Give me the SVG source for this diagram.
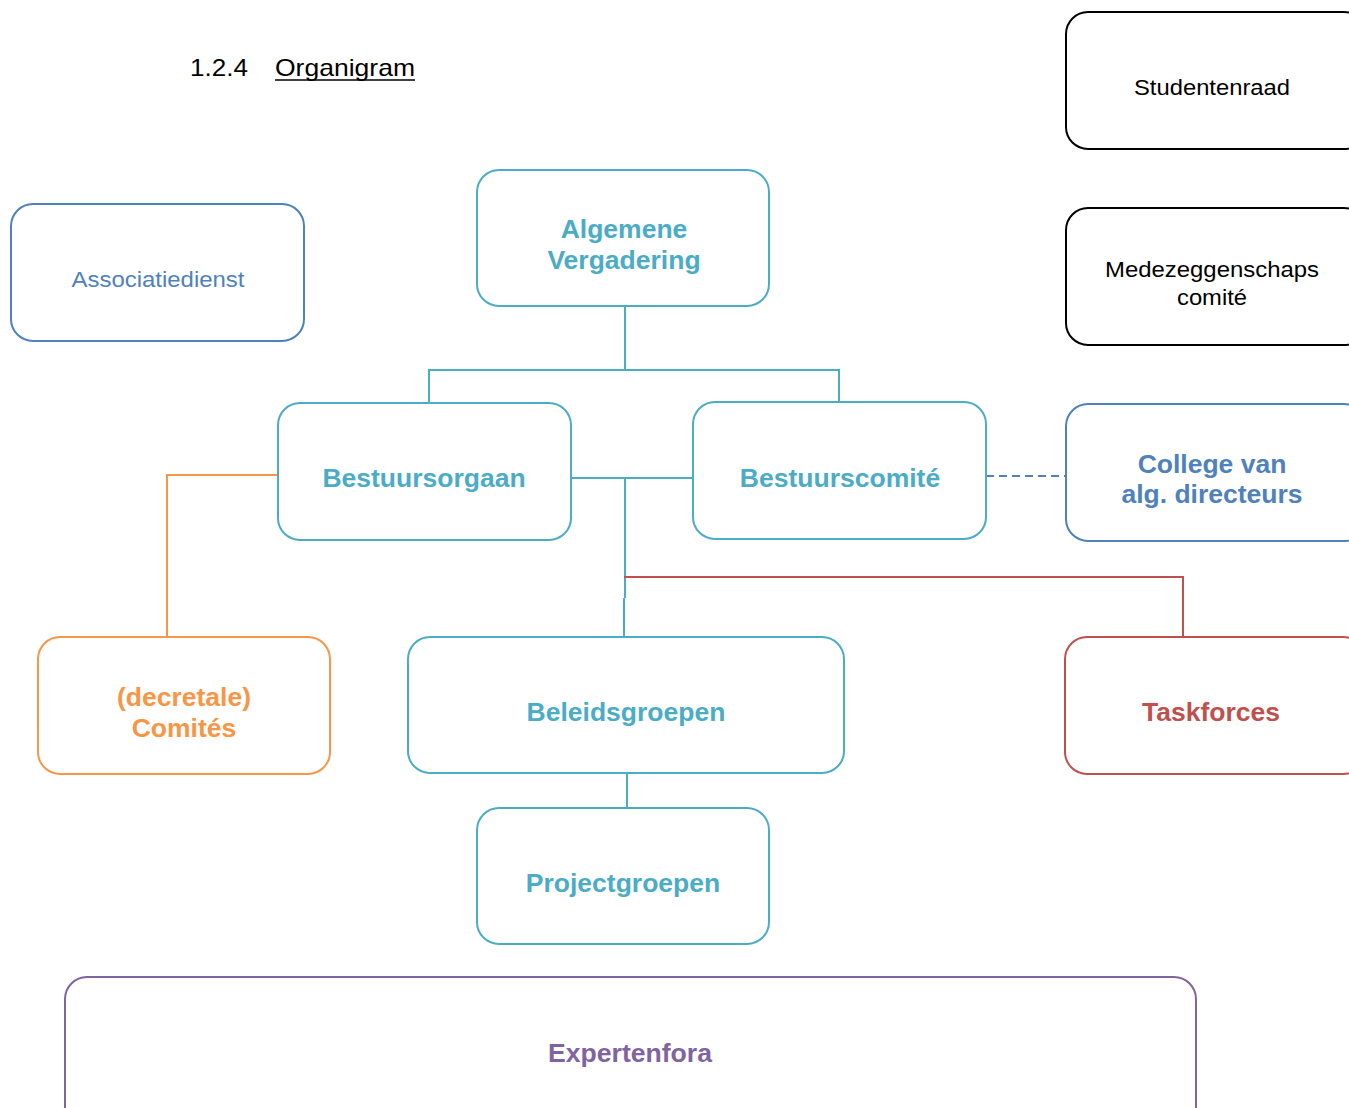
<svg xmlns="http://www.w3.org/2000/svg" width="1349" height="1108" viewBox="0 0 1349 1108">
<style>
.box{fill:#fff;stroke-width:2}
.teal{stroke:#4BACC6}.blue{stroke:#4F81BD}.org{stroke:#F79646}.red{stroke:#C0504D}.pur{stroke:#8064A2}.blk{stroke:#000}
.b{font-family:"Liberation Sans",Arial,sans-serif;font-weight:bold;font-size:26.5px;text-anchor:middle}
.r{font-family:"Liberation Sans",Arial,sans-serif;font-size:22px;text-anchor:middle;fill:#000}
.tealt{fill:#4BACC6}.bluet{fill:#4F81BD}.orgt{fill:#F79646}.redt{fill:#C0504D}.purt{fill:#8064A2}
.ln{fill:none;stroke-width:2}
</style>
<rect width="1349" height="1108" fill="#fff"/>
<g id="title">
<text x="190" y="76" font-family="Liberation Sans,Arial,sans-serif" font-size="24" fill="#000" textLength="58" lengthAdjust="spacingAndGlyphs">1.2.4</text>
<text x="275" y="76" font-family="Liberation Sans,Arial,sans-serif" font-size="24" fill="#000" textLength="140" lengthAdjust="spacingAndGlyphs">Organigram</text>
<line x1="275" y1="80" x2="415" y2="80" stroke="#000" stroke-width="1.5"/>
</g>
<g id="connectors">
<path class="ln teal" d="M625 306V370M429 403V370H839V402M571 478H693M625 478V598M624 598V637M627 773V808"/>
<path class="ln red" d="M624 577H1183V637"/>
<path class="ln org" d="M278 475H167V637"/>
<path class="ln blue" d="M986 476H1066" stroke-dasharray="8 5"/>
</g>
<g id="studentenraad"><rect class="box blk" x="1066" y="12" width="300" height="137" rx="22"/><text class="r" x="1212" y="95" textLength="156" lengthAdjust="spacingAndGlyphs">Studentenraad</text></g>
<g id="medezeggenschaps"><rect class="box blk" x="1066" y="208" width="300" height="137" rx="22"/><text class="r" x="1212" y="277" textLength="214" lengthAdjust="spacingAndGlyphs">Medezeggenschaps</text><text class="r" x="1212" y="305" textLength="70" lengthAdjust="spacingAndGlyphs">comité</text></g>
<g id="associatiedienst"><rect class="box blue" x="11" y="204" width="293" height="137" rx="22"/><text class="r bluet" x="158" y="287" textLength="173" lengthAdjust="spacingAndGlyphs">Associatiedienst</text></g>
<g id="algemene"><rect class="box teal" x="477" y="170" width="292" height="136" rx="22"/><text class="b tealt" x="624" y="238">Algemene</text><text class="b tealt" x="624" y="269">Vergadering</text></g>
<g id="bestuursorgaan"><rect class="box teal" x="278" y="403" width="293" height="137" rx="22"/><text class="b tealt" x="424" y="487">Bestuursorgaan</text></g>
<g id="bestuurscomite"><rect class="box teal" x="693" y="402" width="293" height="137" rx="22"/><text class="b tealt" x="840" y="487">Bestuurscomité</text></g>
<g id="college"><rect class="box blue" x="1066" y="404" width="300" height="137" rx="22"/><text class="b bluet" x="1212" y="473">College van</text><text class="b bluet" x="1212" y="503">alg. directeurs</text></g>
<g id="comites"><rect class="box org" x="38" y="637" width="292" height="137" rx="22"/><text class="b orgt" x="184" y="706">(decretale)</text><text class="b orgt" x="184" y="737">Comités</text></g>
<g id="beleidsgroepen"><rect class="box teal" x="408" y="637" width="436" height="136" rx="22"/><text class="b tealt" x="626" y="721">Beleidsgroepen</text></g>
<g id="taskforces"><rect class="box red" x="1065" y="637" width="300" height="137" rx="22"/><text class="b redt" x="1211" y="721">Taskforces</text></g>
<g id="projectgroepen"><rect class="box teal" x="477" y="808" width="292" height="136" rx="22"/><text class="b tealt" x="623" y="892">Projectgroepen</text></g>
<g id="expertenfora"><rect class="box pur" x="65" y="977" width="1131" height="160" rx="22"/><text class="b purt" x="630" y="1062" textLength="164" lengthAdjust="spacingAndGlyphs">Expertenfora</text></g>
</svg>
